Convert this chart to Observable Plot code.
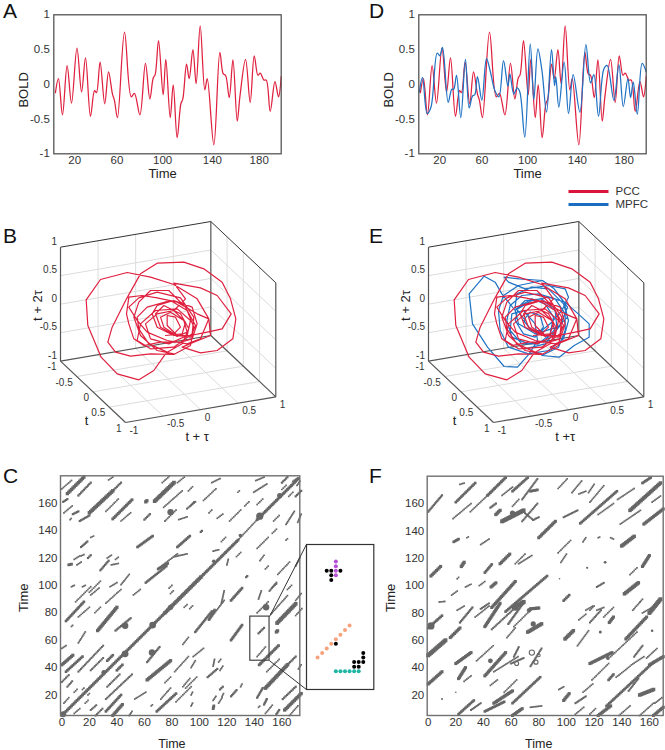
<!DOCTYPE html>
<html><head><meta charset="utf-8">
<script src="https://cdn.jsdelivr.net/npm/d3@7"></script>
<script src="https://cdn.jsdelivr.net/npm/@observablehq/plot@0.6"></script>
<style>html,body{margin:0;padding:0;background:#fff;overflow:hidden}#page{position:relative;width:665px;height:750px;font-family:"Liberation Sans",Arial,sans-serif}.tag{position:absolute;font-size:21px;line-height:21px;color:#111}</style>
</head><body><div id="page"></div>
<script>
// ---------- time series (time, BOLD)
const pccT=[3.4,6,9.5,13.5,17.3,22,26,29.4,33.7,37.2,38.9,42,46,49.3,52.7,54.4,57,63.1,68.9,71.7,76.4,81.2,85,87.9,89.6,92.5,96.5,98.8,102.6,105.2,108.6,111.8,113.5,116.7,119,122.2,125,128.5,132.5,134.6,140.3,145.5,148.4,150.4,153.6,156.8,160.5,162.8,167.7,171.7,175.2,178.4,180.4,183.6,185.6,189,193.1,196.2,198.5];
const pccV=[-.12,.08,-.44,.27,-.27,.52,-.11,.38,-.46,-.09,-.12,.32,-.28,.18,-.14,-.23,-.48,.75,-.18,-.13,-.44,.30,-.21,.09,.14,.63,-.15,.36,-.48,-.01,-.77,-.28,-.21,.29,.08,.50,.01,.84,-.08,.08,-.87,.46,.15,.13,-.19,.35,-.53,-.18,.36,-.26,.41,.13,.16,.06,.06,-.39,.04,-.18,.11];
const mpfcT=[2.5,5.2,9.2,12.5,17.9,20.2,22.5,27.4,30.5,32.2,34.6,38.3,42.3,45.5,48.4,50.4,52.7,56.5,60.5,64,67.7,71.2,75.2,79,80.7,84.1,87,89.3,93.6,98.3,101.4,104.9,108.4,112.4,116.7,119.3,120.4,123,127.6,131.4,135.4,141.2,146.4,150.4,153.3,157.3,161.9,164.8,170.6,174.9,178.7,182.7,185,187.3,190.8,195,198.5];
const mpfcV=[-.11,.1,-.42,-.33,.45,.41,.53,-.26,-.07,-.07,.13,-.48,.36,-.34,-.17,-.15,.11,-.23,.37,.17,-.09,-.18,.34,-.03,.15,-.14,-.05,-.11,-.76,.58,-.22,.51,.2,-.4,.5,-.02,.11,-.33,.32,-.42,.14,-.4,.57,.02,.14,-.46,.22,.27,-.23,.28,-.32,.08,-.19,.03,-.43,.3,.18];
const boldTicks=[-1,-.5,0,.5,1];
const timeTickAt=[20,56.5,96,139,179.5];
const timeTickText=["20","60","100","140","180"];
// ---------- state-space trajectories, read on the projection plane
const pccPlaneX=[520,555,520,600,650,692,665,620,570,520,470,455,470,520,575,590,575,540,480,430,400,385,378,385,425,470,530,590,625,630,580,545,600,650,697,706,690,665,610,550,470,420,378,335,322,345,390,450,520,570,580,560,510,440,410,415,445,500,545,565,540,490,465,480,530,560,550,510,480,490,520,540,525,500,500,530,570,585,555,505,450,415,400,420,470,520,495,460,415,350,302,262,257,300,380,450,520,590,625,600,560,500,440,410,385,415,470,540,580,575,520,450,410,420,465,530,570,560,505,450,435,470,520,555,545,495];
const pccPlaneY=[300,265,218,232,255,310,355,365,375,375,350,310,285,270,290,340,385,395,395,405,385,340,310,260,255,262,275,310,325,375,395,410,427,420,385,325,265,215,175,155,158,190,265,350,395,425,437,430,432,405,350,300,270,290,320,355,400,425,400,355,310,285,310,350,378,365,330,305,320,350,370,350,320,315,345,375,380,345,290,240,240,275,320,375,420,430,430,480,508,490,440,345,268,207,186,200,222,265,325,385,400,390,365,330,290,262,245,262,320,370,410,415,390,340,300,295,330,375,400,385,340,310,300,335,370,375];
const mpfcPlaneX=[470,440,445,490,540,585,600,585,540,480,420,395,390,405,450,522,557,587,597,567,500,450,440,470,520,560,565,530,480,430,415,425,460,510,560,590,590,570,520,572,617,662,662,629,590,540,490,440,400,380,347,302,312,357,407,447,482,507,500,465,430,425,460,510,545,555,530,490,450,440,465,500,525,515,485,465,490,520,550,580,600,590,540,470,420,407,452,522,557,597,575,530,470];
const mpfcPlaneY=[330,290,250,230,235,280,330,385,420,430,410,360,300,255,225,210,235,275,320,350,370,340,300,270,265,300,350,390,400,380,330,285,255,250,265,310,360,410,435,440,405,380,340,310,275,260,270,300,250,215,197,250,340,410,468,470,430,390,340,300,310,360,400,400,370,320,280,265,290,330,370,380,350,315,305,330,360,360,335,300,260,235,225,235,215,200,205,210,235,290,345,400,415];
const axisTicks3=[-1,-.5,0,.5,1];
const gridTicks3=[-.5,0,.5];
const tick3Text=["-1","-0.5","0","0.5","1"];
// ---------- recurrence streaks: [x1,y1,x2,y2,thickness] upper half of the symmetric plot
const pccStreaks=[
[0,170.5,7,176.6,1.5],[4,167,16,179,3],[12,165.6,21,175,2],[20,153,37,169,3.2],[34,177,37,179,1.5],[37,169,43,175,2],[1,161,4,163,2],[1.5,153,7.5,158,1.5],[8,152,12,154,2],[6,148,6.8,148.8,1.5],[13,147,20,151,2],[32,154,41,163,1.5],[37,148.5,51,162.5,2.6],[43,147,50,153,1.2],[61,161,61.8,161.8,3],[60,148,64,152,2],[67.5,161.5,81.5,175,3.4],[73,175,78,179.5,1.3],[84,175,89,179,1.3],[74,157,87.5,169,1],[92,169,95,172,1],[75,147,83,155,1.6],[91,156,97,161,1.8],[85,148,91,150,1],
[14,128,18.5,132,2],[21,135,23,136,1],[55,128,66,136,2.4],[84,128,93,136,2.4],[5,115,7,115.5,2.5],[9,119,13,121.5,1],[14,121.5,16,122.5,1],[19,120,21,122,2],[11,115,14,117,1.6],[28,111,34,118,2],[33,120,36,122,1],[39,119,41,120.5,1],[36,115,41,116,1],[71,113,84,123,1.6],[70,112,77,116,2.4],[82,121,91,123,1],[61,102,76,114,2.2],[7,99,9,100,1.6],[15,99,17,100,1.5],[20,95,28,103,1.4],[10,88,21,99,1.4],[21,93,27,98,1],[35,99,40,102,1.5],[43,100.5,49,108,1],[32,87,43,97,1],[52,93,57,97,1],[78,98,80,100,1.5],[79,94,81,96,1],
[3,74,16,88,2.4],[12,77,20,84,1.4],[24,80,28,84,1.4],[26,67,40,84,3],[39,67,50,76,2],[7,70,7.8,70.8,1.5],[12,58,17,66,1],[0,54,3,56,1.6],[0,42,8,49,2.8],[3,37,15,48,2.4],[12,37,30,56,1.8],[21,38,30,47,1.8],[33,45,37,49,2.4],[0,29.5,5,34.5,1.8],[4,26,7.5,30,1.8],[9,22,11,24,1],[15,24,16,25,1],[1.5,14,5,18,1],
[93.5,158,96,161,1],[103,162,112,170.5,1.5],[109,175,115,178,1.5],[113,149,117,152,1],[107,153,109,155,1],[122,147,130,155,1],[128,168,129,169,1],[101,139,101.8,139.8,2],[139.5,168,149,174,1.6],[141,176.5,147,179,1.2],[160,175,164,179,2],[110,125,114,126,1.2],[142,159,146,163,1],[116,132,119,135,1],[133,158,136,161,1],[160,170,163,173,1],[168,176,171,178,1.6]
];
const pccDiagonal=[[0,5,75,80,2.6],[75,80,101,106,3.2],[101,106,128,133,2.6],[128,133,142,148,.9],[142,148,172,178,2.6]];
const pccBlobs=[[1,6,3],[30.5,36.5,2.4],[46,50,3.4],[66,71,3.4],[79,84,2.6],[110.4,117.6,1.8],[129.8,136.4,1.8],[143.9,150.5,3.6],[158.4,165.6,2.6],[46,70.5,3.2],[79,153.5,3.2]];
const crossStreaks=[
[0,154,10,166,2],[20,161,34,175,2.4],[23,174,26,175,1],[30.5,154,43,166,1],[43,166,56,179,2.6],[18,149,31,160,1],[53.5,166,61,172,1.4],[61,169,72,179,2.4],[68,163,79,178,1.8],[74,169,79,170,2.4],[45,157,49,160,2],[49,152,52,155,3],[53.5,147,69,155,3.6],[61,158,65.5,163,1],[68,147,79,160,1.8],[70,153,76,148,1.8],[76,148,80,150,1.8],[80,135,92,147,2.8],[18.5,132,22,134,2.4],[28,135,29,135.6,1.5],[38,130,44,134,1.4],[2,107,9,114,2.8],[24,114,26,117,3],[41,109.5,46,115.5,2.4],[52,116,59,123,2.8],[63,116,70,123,1],[65.5,116,75,122,1.4],
[27,99,31,101,1.5],[37,100,41,103,1.5],[45.5,99,49,102,2.8],[21,105,22,106,1],[17,93,21,96,1],[8,88,12,88.4,1.4],[21,82,26,85,1.4],[46,84,63,103,2.8],[56,81,86,107,2.4],[62,84,69,88,3.8],[74,83,80,83.6,2.8],[38,83,44,87,1.8],[94,171,100.5,178,1.4],[104,168,111,176.5,1],[109,167,114,169,1],[116,168,120,174,1.4],[117,161,127,173,1],[110,145.5,136.5,169,2.4],[123,152,134,160,1.4],[139,145,153.5,155,1.4],[146,155,168,175,3.2],[156,145,170,156,2.8],[162,161,168,165.5,1],[137,163,149,171,1],[155,175,161,179,2.4],[98,150,108,155,1.8],[94,124,103,133,1],[96,117,100,123,1],[140,129,149,136,3.2],[112,132,114,135,1],[123,135,124,135.5,1],[132,135,134,134,1],[155,114,160,122,2.8],[146,108,151,113,1],[142,94,152,102,3.2],[122,99,127,102,1.8],[98,89,102,93,2.4],[114,82,119,85,1.4],[122,82,127,84,1.4],[148,82,155,90,1.6],[160,80,168,90,3.6],[155,80,162,84,1.2],
[0,69,10,78,2.4],[16,62,23,69,2.8],[0,49,12.5,60,3.6],[0,28,10,37,2.8],[20,43,31,51,2.8],[22,32,27,40,2.8],[23,73,32,84,2],[34,77,44,85,1.4],[41,70,52,87,2.8],[46,68,61,82,1.8],[58,72,68,86,2],[62,70,74,82,1.4],[72,66,82,72,3.2],[57,62,63,69,1],[62,48,65.5,55,1.8],[35,45,47,56,1.4],[41,34,56,51,2.8],[47.5,37,65,48,1.4],[60,43,69,47,1.8],[74,41,82,54,1.8],[45,27,50,31,1.4],[26,30,31,34,1.4],[55,22,64,31,1.4],[47.5,14,61,23,2.8],[61,14,81,33,2.4],[41,8,55,15,2.4],[22,6,33,16,2.4],[31,9,38,14,1.8],[61,5,68,10,2.8],[74,11,82,12,1],
[94.5,24,98,26,1.4],[98,16,102,21,2.8],[99,61,105,67,3.2],[108,56,116,67,1.4],[131,73,134,77,2.8],[143,61,158,77,2.8],[117,73,125,82,1.8],[127,77,134,84,1.4],[109,75,114,79,1],[117,82,120,85,1],[117,43,133,51,2.8],[132,48,151,66,1.4],[149,48,155,56,1.8],[158,47,165.5,54,1.4],[147,42,156,48,1],[129,12,163,44,2.4],[160,42,170,48,2.8],[118.5,31,130.5,43,1.4],[130.5,31,134,35,2.4],[106.5,14,114,19,1.8],[112,22,119,28,1],[106.5,6,112.5,11,1],[117,6,121,10,1],[123,5,132,12,2.8],[138,5,146,12,1],[153,5,163,14,1.4],[153,20,163,24,3.2],[145,23,152,32,1.8],[163,5,170,11,2.8],[164,14,169,18,1.6],[136,33,146,41,1]
];
const crossBlobs=[[2,70.5,3.6],[63,84,3.2],[73,82,2.2],[76,72,2.6],[61,153,2.6],[45,45,2.4],[124.5,66,1.5],[130,47,2],[162,67,1.3],[10,17,1],[20,22,.8],[95,105,.8],[115,113,1.1],[128,117,1.4]];
const crossRings=[[75,51,2.6],[78,44,2],[64,43,2],[80,49,1.4]];
// ---------- inset of the recurrence plot
const insetPurpleX=[143,143,143,143],insetPurpleY=[73,72,71,70];
const insetOrangeX=[139,140,141,142,143,144,145,146],insetOrangeY=[52,53,54,55,56,57,58,59];
const insetTealX=[143,144,145,146,147,148],insetTealY=[49,49,49,49,49,49];
const insetBlackX=[141,142,144,142,142,143,147,148,147,148,149,149,149],insetBlackY=[71,71,71,70,69,55,50,50,51,51,51,52,53];
const timeTicks=[0,20,40,60,80,100,120,140,160];
const recTicksY=[20,40,60,80,100,120,140,160];
const seriesNames=["PCC","MPFC"];
const RED="#e0203f",BLUE="#1f72c4",GRAY="#666";

const page=document.getElementById("page");
const pack=(t,v)=>t.map((d,i)=>({t:d,v:v[i]}));
const zip=(x,y)=>x.map((d,i)=>({x:d,y:y[i]}));
function place(opts,left,top){
  const svg=Plot.plot({...opts,r:{type:"identity"},style:{position:"absolute",left:left+"px",top:top+"px",background:"transparent",overflow:"visible",fontFamily:'"Liberation Sans",Arial,sans-serif',maxWidth:"none"}});
  page.appendChild(svg);return svg;
}
function tag(s,x,y){const d=document.createElement("div");d.className="tag";d.textContent=s;d.style.left=x+"px";d.style.top=y+"px";page.appendChild(d);}

function timePanel(left,lines){
  place({width:300,height:190,marginLeft:53.3,marginRight:19.3,marginTop:14.3,marginBottom:36.7,
    x:{domain:[2,198.5],axis:null},y:{domain:[-1,1],axis:null},
    marks:[
      Plot.axisY({ticks:boldTicks,tickSize:0,tickPadding:4,fontSize:11.5,color:"#333",label:null,tickFormat:d=>String(d)}),
      Plot.axisX({ticks:timeTickAt,tickSize:0,tickPadding:2.5,fontSize:11.5,color:"#333",label:null,tickFormat:d=>timeTickText[timeTickAt.indexOf(d)]}),
      ...lines.map(l=>Plot.line(l.data,{x:"t",y:"v",stroke:l.color,strokeWidth:1.25,curve:"catmull-rom"})),
      Plot.frame({stroke:"#555",strokeWidth:1.3}),
      Plot.text(["Time"],{x:96,y:-1,dy:20,text:d=>d,fontSize:13,fill:"#222"}),
      Plot.text(["BOLD"],{x:2,y:-.08,dx:-30,rotate:-90,text:d=>d,fontSize:13,fill:"#222"})
    ]},left,0);
}
timePanel(0,[{data:pack(pccT,pccV),color:RED}]);
timePanel(365,[{data:pack(pccT,pccV),color:RED},{data:pack(mpfcT,mpfcV),color:BLUE}]);

// legend
place({width:100,height:34,marginLeft:0,marginRight:60,marginTop:0,marginBottom:0,
  x:{domain:[0,1],axis:null},y:{type:"point",domain:seriesNames,range:[7,20.5],padding:0,axis:null},
  marks:[
    Plot.link(seriesNames,{x1:0,x2:1,y1:d=>d,y2:d=>d,stroke:d=>d===seriesNames[0]?"#dc143c":"#1a6dc0",strokeWidth:3.2}),
    Plot.text(seriesNames,{x:1,y:d=>d,dx:7,text:d=>d,textAnchor:"start",fontSize:11.5,fill:"#333"})
  ]},568,184);

// 3-D panels: tau, t, z in [-1,1] onto the plane
function proj(tau,t,z){
  return {x:180+(tau+1)/2*451+(t+1)/2*195, y:452-(tau+1)/2*77+(t+1)/2*184-(z+1)/2*342};
}
function seg3(a,b){const p=proj(...a),q=proj(...b);return {x1:p.x,y1:p.y,x2:q.x,y2:q.y};}
function panel3(left,trajectories,tauLabel){
  const grid=[],dark=[],thin=[];
  for(const g of gridTicks3){
    grid.push(seg3([g,-1,-1],[g,-1,1]),seg3([-1,-1,g],[1,-1,g]));      // back wall
    grid.push(seg3([1,g,-1],[1,g,1]),seg3([1,-1,g],[1,1,g]));          // side wall
    grid.push(seg3([g,-1,-1],[g,1,-1]),seg3([-1,g,-1],[1,g,-1]));      // floor
  }
  dark.push(seg3([-1,-1,-1],[-1,-1,1]),seg3([1,-1,-1],[1,-1,1]),seg3([-1,-1,-1],[1,-1,-1]),seg3([-1,-1,-1],[-1,1,-1]),seg3([-1,1,-1],[1,1,-1]),seg3([1,-1,-1],[1,1,-1]));
  thin.push(seg3([-1,-1,1],[1,-1,1]),seg3([1,-1,1],[1,1,1]),seg3([1,1,-1],[1,1,1]));
  const lk=(data,stroke,w)=>Plot.link(data,{x1:"x1",y1:"y1",x2:"x2",y2:"y2",stroke,strokeWidth:w});
  const zLab=axisTicks3.map((v,i)=>({...proj(-1,-1,v),s:tick3Text[i]}));
  const tLab=axisTicks3.map((v,i)=>({...proj(-1,v,-1),s:tick3Text[i]}));
  const uLab=axisTicks3.map((v,i)=>({...proj(v,1,-1),s:tick3Text[i]}));
  const tx=(data,o)=>Plot.text(data,{x:"x",y:"y",text:"s",fontSize:10,fill:"#333",...o});
  place({width:297,height:240,marginLeft:0,marginRight:0,marginTop:0,marginBottom:0,x:{domain:[0,891],axis:null},y:{domain:[720,0],axis:null},
    marks:[
      lk(grid,"#dcdcdc",1),lk(thin,"#333",1),lk(dark,"#555",1.2),
      tx(zLab,{textAnchor:"end",dx:-3.5,dy:-5.5}),
      tx(tLab,{textAnchor:"end",dx:-4,dy:6}),
      tx(uLab,{textAnchor:"start",dx:4,dy:8}),
      ...trajectories.map(l=>Plot.line(l.data,{x:"x",y:"y",stroke:l.color,strokeWidth:1.2})),
      Plot.text(["t + 2τ"],{x:112,y:285,text:d=>d,rotate:-90,fontSize:13,fill:"#222"}),
      Plot.text(["t"],{x:258,y:632,text:d=>d,fontSize:13,fill:"#222"}),
      Plot.text([tauLabel],{x:590,y:680,text:d=>d,fontSize:13,fill:"#222"})
    ]},left,210);
}
const pccPlane=zip(pccPlaneX,pccPlaneY), mpfcPlane=zip(mpfcPlaneX,mpfcPlaneY);
panel3(0,[{data:pccPlane,color:RED}],"t + τ");
panel3(367.67,[{data:mpfcPlane,color:BLUE},{data:pccPlane,color:RED}],"t +τ");

// recurrence panels: each streak is drawn as its recurrent cells
function streakMarks(list){
  const cells=list.flatMap(d=>{
    const n=Math.max(1,Math.round(Math.max(Math.abs(d[2]-d[0]),Math.abs(d[3]-d[1]))));
    return d3.range(n+1).map(i=>({x:d[0]+(d[2]-d[0])*i/n,y:d[1]+(d[3]-d[1])*i/n,r:Math.max(1.7,d[4]*1.1)/1.77}));
  });
  return Plot.dot(cells,{x:"x",y:"y",r:"r",symbol:"square",fill:GRAY,stroke:"none"});
}
const blobMark=list=>Plot.dot(list.map(d=>({x:d[0],y:d[1],r:d[2]})),{x:"x",y:"y",r:"r",fill:GRAY,stroke:"none"});
const mirror=d=>[d[1]-5,d[0]+5,d[3]-5,d[2]+5,d[4]];
const recAxes=(labelX,fs=11.5)=>[
  Plot.axisY({ticks:recTicksY,tickSize:0,tickPadding:3,fontSize:fs,color:"#333",label:null}),
  Plot.axisX({ticks:timeTicks,tickSize:0,tickPadding:2,fontSize:fs,color:"#333",label:null}),
  Plot.frame({stroke:"#707070",strokeWidth:1.4}),
  Plot.text(["Time"],{x:labelX,y:5,dy:28.5,text:d=>d,fontSize:12.5,fill:"#222"}),
];
const insetBox=[{x1:137,x2:151}];
const insetOuter={x:177.8,y1:129.8,y2:24};
place({width:380,height:290,marginLeft:60,marginRight:80.7,marginTop:15.3,marginBottom:35,
  x:{domain:[-1,173],axis:null},y:{domain:[5,180],axis:null},
  marks:[
    streakMarks([...pccStreaks,...pccStreaks.map(mirror)]),
    streakMarks(pccDiagonal),
    blobMark([...pccBlobs,...pccBlobs.slice(9).map(b=>[b[1]-5,b[0]+5,b[2]])]),
    ...recAxes(80),
    Plot.text(["Time"],{x:-1,y:91,dx:-37,rotate:-90,text:d=>d,fontSize:13,fill:"#222"}),
    Plot.rect(insetBox,{x1:"x1",x2:"x2",y1:45,y2:77.2,stroke:"#444",strokeWidth:1.2,fill:"none"}),
    Plot.link([{a:151,b:77.2,c:insetOuter.x,e:insetOuter.y1},{a:151,b:45,c:insetOuter.x,e:insetOuter.y2}],{x1:"a",y1:"b",x2:"c",y2:"e",stroke:"#333",strokeWidth:1})
  ]},0,460);
place({width:67.3,height:145,marginLeft:0,marginRight:0,marginTop:0,marginBottom:0,x:{domain:[136.58,151.3],axis:null},y:{domain:[45,76.75],axis:null},
  marks:[
    Plot.frame({fill:"#fff",stroke:"#333",strokeWidth:1.2}),
    Plot.dot(zip(insetPurpleX,insetPurpleY),{x:"x",y:"y",r:2,fill:"#b54fd4"}),
    Plot.dot(zip(insetOrangeX,insetOrangeY),{x:"x",y:"y",r:2,fill:"#f6a27c"}),
    Plot.dot(zip(insetTealX,insetTealY),{x:"x",y:"y",r:2,fill:"#1fb5a3"}),
    Plot.dot(zip(insetBlackX,insetBlackY),{x:"x",y:"y",r:2,fill:"#000"})
  ]},306,544);
place({width:275,height:290,marginLeft:36.7,marginRight:2.3,marginTop:15.7,marginBottom:35,
  x:{domain:[-.7,170],axis:null},y:{domain:[5,180],axis:null},
  marks:[
    streakMarks(crossStreaks),blobMark(crossBlobs),
    Plot.dot(crossRings.map(d=>({x:d[0],y:d[1],r:d[2]})),{x:"x",y:"y",r:"r",stroke:GRAY,strokeWidth:1.1,fill:"none"}),
    ...recAxes(80),
    Plot.text(["Time"],{x:-.7,y:91,dx:-36,rotate:-90,text:d=>d,fontSize:13,fill:"#222"})
  ]},390,460);

tag("A",3,0);tag("D",369,0);tag("B",3,225);tag("E",369,225);tag("C",3,465);tag("F",369,465);
</script></body></html>
